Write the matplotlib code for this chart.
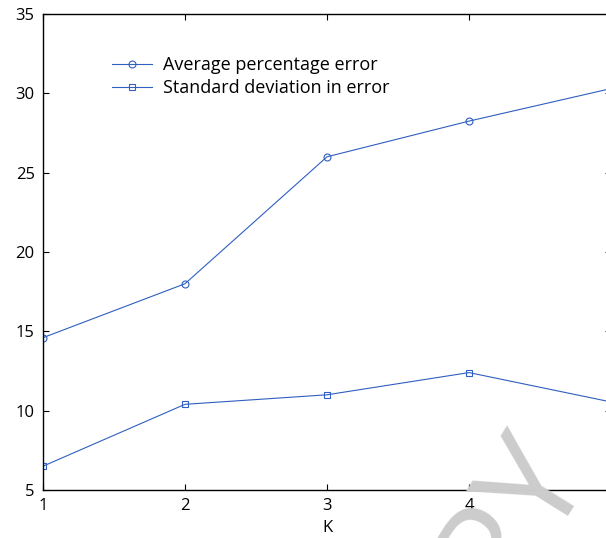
import matplotlib
matplotlib.use('Agg')
import matplotlib.pyplot as plt

k_values = [1, 2, 3, 4, 5]
avg_error = [14.6, 18.0, 26.0, 28.25, 30.3]
std_error = [6.5, 10.4, 11.0, 12.4, 10.55]
x_tick_labels = ['1', '2', '3', '4', '']

plt.rcParams['font.family'] = ['Open Sans', 'DejaVu Sans']

fig = plt.figure(figsize=(6.06, 5.38), dpi=100)
# axes runs past the right edge of the picture (the original is cropped)
ax = fig.add_axes([43 / 606, 48 / 538, 568 / 606, 476 / 538])

color = '#2f5fbf'
ax.plot(k_values, avg_error, color=color, linewidth=0.8, marker='o',
        markersize=5, markerfacecolor='none', markeredgewidth=0.8,
        label='Average percentage error')
ax.plot(k_values, std_error, color=color, linewidth=0.8, marker='s',
        markersize=4.5, markerfacecolor='none', markeredgewidth=0.8,
        label='Standard deviation in error')

ax.set_xlim(1, 5)
ax.set_ylim(5, 35)
ax.set_xticks(k_values)
ax.set_xticklabels(x_tick_labels)
ax.set_yticks([5, 10, 15, 20, 25, 30, 35])
ax.tick_params(direction='in', top=True, right=True, length=4, width=0.8,
               labelsize=12, pad=6)
for s in ax.spines.values():
    s.set_linewidth(1.0)
ax.set_xlabel('K', fontsize=12, labelpad=4)

ax.legend(loc='upper left', bbox_to_anchor=(0.093, 0.946), frameon=False,
          fontsize=13, handlelength=2.2, handletextpad=0.6, labelspacing=0.3)

# faint watermark over the plot
fig.text(589 / 606, 68 / 538, 'COPY', fontsize=100, color='#cccccc',
         rotation=58, rotation_mode='anchor', ha='right', va='baseline',
         zorder=10)

fig.savefig('out.png', dpi=100)
